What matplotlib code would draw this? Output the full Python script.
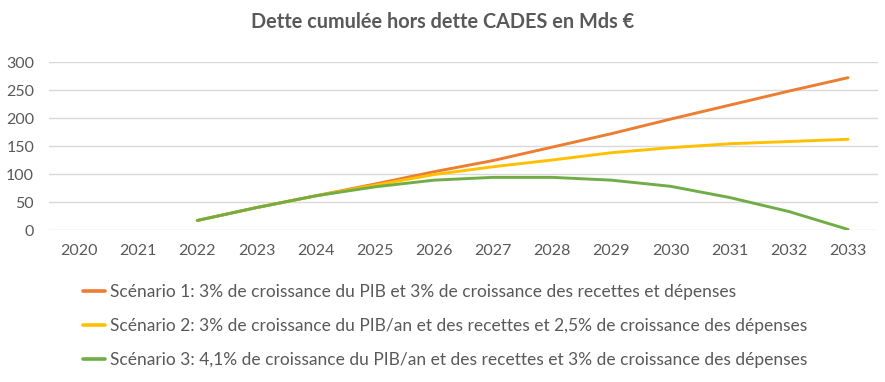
import matplotlib
matplotlib.use("Agg")
import matplotlib.pyplot as plt
import numpy as np

years = ["2020", "2021", "2022", "2023", "2024", "2025", "2026", "2027",
         "2028", "2029", "2030", "2031", "2032", "2033"]
s1 = [None, None, 17, 40, 61, 82, 104, 124, 148, 172, 198, 223, 248, 272]
s2 = [None, None, 17, 40, 61, 80, 99, 113, 125, 138, 147, 154, 158, 162]
s3 = [None, None, 17, 40, 61, 77, 89, 94, 94, 89, 78, 58, 33, 1]
labels = [
    "Scénario 1: 3% de croissance du PIB et 3% de croissance des recettes et dépenses",
    "Scénario 2: 3% de croissance du PIB/an et des recettes et 2,5% de croissance des dépenses",
    "Scénario 3: 4,1% de croissance du PIB/an et des recettes et 3% de croissance des dépenses",
]
title = "Dette cumulée hors dette CADES en Mds €"
colors = ["#ED7D31", "#FFC000", "#70AD47"]
txt = "#595959"

plt.rcParams['font.family'] = ['Lato', 'DejaVu Sans']

fig = plt.figure(figsize=(8.85, 3.82), dpi=100)
ax = fig.add_axes([49.4/885, (382-230)/382, (877.6-49.4)/885, 168/382])

x = np.arange(len(years))
for vals, c, lab in zip([s1, s2, s3], colors, labels):
    v = np.array([np.nan if a is None else a for a in vals], dtype=float)
    ax.plot(x, v, color=c, lw=2.1, label=lab, solid_capstyle='round')

ax.set_xlim(-0.5, len(years) - 0.5)
ax.set_ylim(0, 300)
ax.set_yticks(range(0, 301, 50))
ax.set_xticks(x)
ax.set_xticklabels(years)
ax.grid(axis='y', color="#D9D9D9", lw=1.0)
ax.set_axisbelow(True)
for s in ax.spines.values():
    s.set_visible(False)
ax.tick_params(length=0, colors=txt, labelsize=11.5)
ax.tick_params(axis='x', pad=10)
ax.tick_params(axis='y', pad=11)

fig.text(0.5, 1 - 22/382, title, ha='center', va='center', fontsize=14.3,
         fontweight='bold', color=txt)

leg = fig.legend(loc='upper left', bbox_to_anchor=(83/885, 1 - 284/382),
                 frameon=False, fontsize=12.5, handlelength=1.25,
                 handletextpad=0.3, labelspacing=1.05, labelcolor=txt,
                 borderaxespad=0, borderpad=0)
for h in leg.legend_handles:
    h.set_linewidth(2.6)

fig.savefig("out.png", dpi=100)
